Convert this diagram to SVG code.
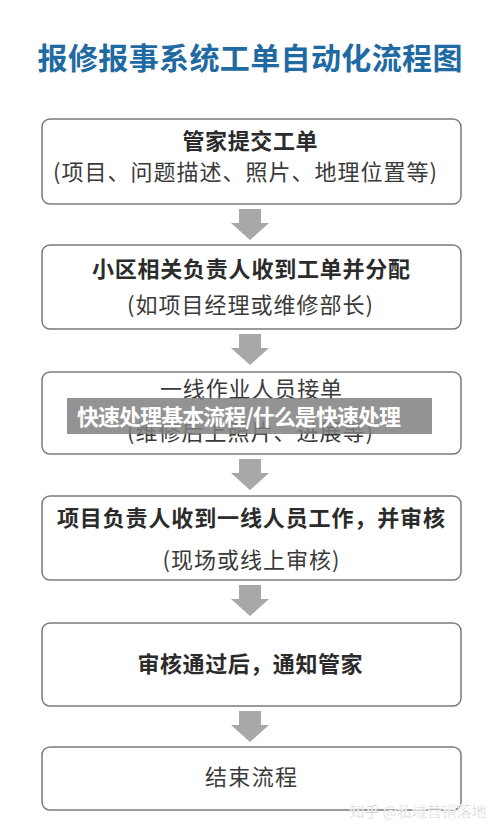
<svg xmlns="http://www.w3.org/2000/svg" width="500" height="833" viewBox="0 0 500 833">
<defs>
<style>
.box{fill:#fff;stroke:#7a7a7a;stroke-width:1.5}
.t{font-family:"Noto Sans CJK SC","Noto Sans",sans-serif;fill:#2b2b2b;text-anchor:middle;dominant-baseline:central}
.b{font-size:22px;font-weight:700}
.n{font-size:22px;font-weight:400;fill:#3a3a3a}
.arrow{fill:#a8a8a8}
</style>
</defs>
<rect width="500" height="833" fill="#fff"/>
<text x="250" y="56" class="t" style="font-size:30px;font-weight:700;fill:#1f6aa3" textLength="425" lengthAdjust="spacing">报修报事系统工单自动化流程图</text>
<g id="n1">
<rect class="box" x="42" y="119" width="419" height="85" rx="8"/>
<text x="250" y="139" class="t b" textLength="135" lengthAdjust="spacing">管家提交工单</text>
<text x="245" y="170" class="t n" textLength="384" lengthAdjust="spacing">(项目、问题描述、照片、地理位置等)</text>
</g>
<g id="n2">
<rect class="box" x="42" y="245" width="419" height="84" rx="8"/>
<text x="251" y="267" class="t b" textLength="318" lengthAdjust="spacing">小区相关负责人收到工单并分配</text>
<text x="250" y="303" class="t n" textLength="246" lengthAdjust="spacing">(如项目经理或维修部长)</text>
</g>
<g id="n3">
<rect class="box" x="42" y="372" width="419" height="82" rx="8"/>
<text x="251" y="387" class="t n" textLength="182" lengthAdjust="spacing">一线作业人员接单</text>
<text x="250" y="430" class="t n" textLength="246" lengthAdjust="spacing">(维修后上照片、进展等)</text>
</g>
<g id="n4">
<rect class="box" x="42" y="496" width="419" height="84" rx="8"/>
<text x="251" y="516" class="t b" textLength="388" lengthAdjust="spacing">项目负责人收到一线人员工作，并审核</text>
<text x="251" y="558" class="t n" textLength="177" lengthAdjust="spacing">(现场或线上审核)</text>
</g>
<g id="n5">
<rect class="box" x="42" y="623" width="419" height="83" rx="8"/>
<text x="250" y="662" class="t b" textLength="225" lengthAdjust="spacing">审核通过后，通知管家</text>
</g>
<g id="n6">
<rect class="box" x="42" y="747" width="419" height="63" rx="8"/>
<text x="251" y="775" class="t n" textLength="92" lengthAdjust="spacing">结束流程</text>
</g>
<g id="connectors">
<polygon class="arrow" points="239,209 261,209 261,223 269,223 250,240 231,223 239,223"/>
<polygon class="arrow" points="239,334 261,334 261,348 269,348 250,365 231,348 239,348"/>
<polygon class="arrow" points="239,459 261,459 261,473 269,473 250,490 231,473 239,473"/>
<polygon class="arrow" points="239,585 261,585 261,599 269,599 250,616 231,599 239,599"/>
<polygon class="arrow" points="239,711 261,711 261,725 269,725 250,742 231,725 239,725"/>
</g>
<g id="banner">
<rect x="67" y="398" width="365" height="36" fill="#808080" fill-opacity="0.85"/>
<text x="239" y="415" class="t" style="font-size:22px;font-weight:700;fill:#fff" textLength="324" lengthAdjust="spacing">快速处理基本流程/什么是快速处理</text>
</g>
<text x="418" y="810" class="t" style="font-size:15px;fill:#c4c4c4;stroke:#fff;stroke-width:0.5" textLength="137" lengthAdjust="spacing">知乎 @私域营销落地</text>
</svg>
